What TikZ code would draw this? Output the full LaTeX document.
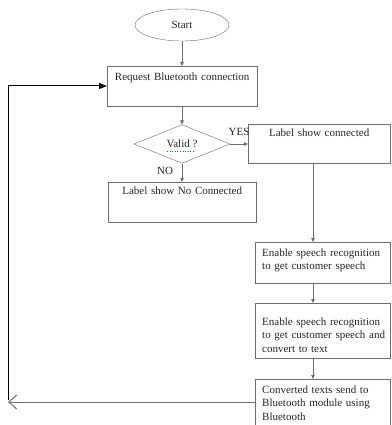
\documentclass[tikz,border=0pt]{standalone}
\usepackage{fontspec}
\setmainfont{Liberation Serif}
\usepackage{tikz}
\usetikzlibrary{shapes.geometric, arrows.meta, positioning, calc}

\definecolor{linegray}{HTML}{6E6E6E}
\definecolor{textgray}{HTML}{262626}
\tikzset{
  box/.style={draw=linegray, anchor=north west, inner xsep=5pt, inner ysep=0pt,
    text=textgray, font=\fontsize{11}{13.5}\selectfont},
  flow/.style={draw=linegray, -{Triangle[length=4pt,width=3.5pt]}},
  back/.style={draw=black, line width=1pt}
}

\begin{document}
\begin{tikzpicture}[x=1pt, y=-1pt]
  \useasboundingbox[fill=white] (0,0) rectangle (391,425);
  % Start and request
  \node[ellipse, draw=linegray, minimum width=94, minimum height=32, inner sep=0pt,
    text=textgray, font=\fontsize{11}{13.5}\selectfont] (start) at (182,25) {Start};
  \node[box, text width=140, align=center, text height=14, text depth=26] (req) at (107,66)
    {Request Bluetooth connection};
  % Decision
  \node[diamond, draw=linegray, minimum width=96, minimum height=38, inner sep=0pt,
    text=textgray, font=\fontsize{11}{13.5}\selectfont] (valid) at (182,144) {Valid ?};
  \draw[green!55!black, dotted, line width=0.6pt] ($(valid.center)+(-15,7)$) -- ($(valid.center)+(13,7)$);
  \node[box, text width=132, align=center, text height=12, text depth=27] (conn) at (248,124)
    {Label show connected};
  \node[box, text width=138, align=center, text height=12, text depth=28] (noconn) at (108,182)
    {Label show No Connected};
  % Speech steps
  \node[box, inner xsep=7pt, text width=121, align=left, text height=14, text depth=27] (speech) at (255,242)
    {Enable speech recognition\\to get customer speech};
  \node[box, inner xsep=7pt, text width=121, align=left, text height=22, text depth=33] (convert) at (255,303)
    {Enable speech recognition\\\mbox{to get customer speech and}\\convert to text};
  \node[box, inner xsep=7pt, text width=121, align=left, text height=14, text depth=46] (send) at (255,379)
    {Converted texts send to\\Bluetooth module using\\Bluetooth};
  % Labels
  \node[text=textgray, font=\fontsize{11}{13.5}\selectfont, inner sep=0pt] (yes) at (239,132) {YES};
  \node[text=textgray, font=\fontsize{11}{13.5}\selectfont, inner sep=0pt] (no) at (165,171) {NO};
  % Connectors
  \coordinate (spine) at (313,0);
  \coordinate (corner) at (8,86);
  \coordinate (home) at (8,402);
  \draw[flow] (start) -- (req.north -| start);
  \draw[flow] (req.south -| valid) -- (valid.north);
  \draw[flow] (valid.east) -- (conn.west |- valid);
  \draw[flow] (valid.south) -- (noconn.north -| valid);
  \draw[flow] (conn.south -| spine) -- (speech.north -| spine);
  \draw[flow] (speech.south -| spine) -- (convert.north -| spine);
  \draw[flow] (convert.south -| spine) -- (send.north -| spine);
  % Loop back
  \draw[back, -{Triangle[length=8pt,width=6pt]}] ($(home)+(0,-2)$) -- (corner) -- (req.west |- corner);
  \draw[linegray, line width=1pt, -{Straight Barb[length=8pt,width=14pt]}] (send.west |- home) -- (home);
\end{tikzpicture}
\end{document}
